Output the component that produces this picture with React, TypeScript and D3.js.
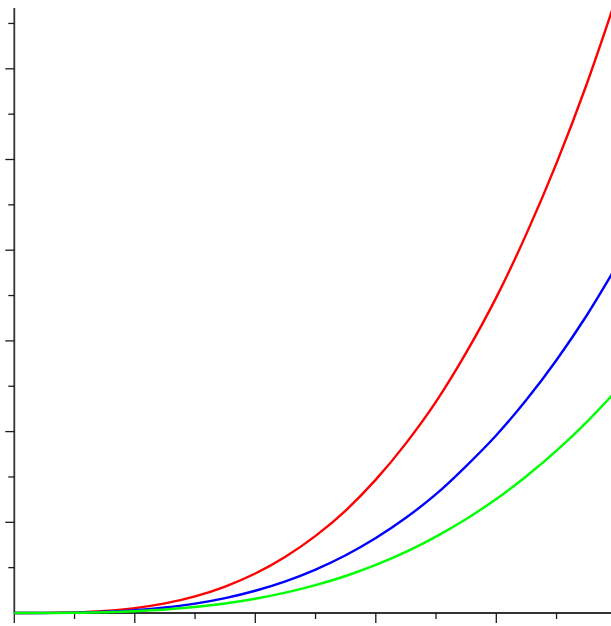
import * as d3 from 'd3';

// x positions sampled along the curves
const xValues = [0, 0.5, 1, 1.5, 2, 2.5, 3, 3.5, 4, 4.5, 5, 5.5, 6, 6.5, 7, 7.5, 8, 8.5, 9, 9.5, 10];

// values
const redValues = [0, 0.085, 0.68, 2.3, 5.4, 10.6, 18.4, 29.2, 43.5, 62, 85, 113, 147, 187, 233, 287, 348, 418, 496, 583, 680];
const blueValues = [0, 0.05, 0.38, 1.3, 3.1, 6.0, 10.3, 16.4, 24.5, 34.9, 47.9, 63.7, 82.7, 105, 131, 162, 196, 235, 279, 328, 383];
const greenValues = [0, 0.03, 0.25, 0.83, 1.96, 3.8, 6.6, 10.5, 15.7, 22.4, 30.7, 40.8, 53, 67.4, 84.2, 103.6, 125.7, 150.8, 179, 210.5, 245.5];

const xMajorTicks = [0, 2, 4, 6, 8, 10];
const xMinorTicks = [1, 3, 5, 7, 9];
const yMajorTicks = [100, 200, 300, 400, 500, 600];
const yMinorTicks = [50, 150, 250, 350, 450, 550, 650];

const SERIES = [
    {name: 'red', values: redValues, color: '#ff0000'},
    {name: 'blue', values: blueValues, color: '#0000ff'},
    {name: 'green', values: greenValues, color: '#00ff00'}
];

const WIDTH = 611;
const HEIGHT = 626;
const Y_AXIS_TOP = 667;

export default function App() {
    const xScale = d3.scaleLinear().domain([0, 10]).range([14.3, 616.8]);
    const yScale = d3.scaleLinear().domain([0, 700]).range([613, 613 - 7 * 90.7]);

    const line = d3.line<number>()
        .x((_, i) => xScale(xValues[i]))
        .y((d) => yScale(d))
        .curve(d3.curveMonotoneX);

    const x0 = xScale(0);
    const y0 = yScale(0);

    return (
        <svg width={WIDTH} height={HEIGHT}
            style={{position: 'absolute', left: 0, top: 0, background: '#fff'}}>
            {/* axes */}
            <line x1={x0} x2={WIDTH + 10} y1={y0} y2={y0} stroke="#333" strokeWidth={1.8} />
            <line x1={x0} x2={x0} y1={yScale(Y_AXIS_TOP)} y2={y0} stroke="#333" strokeWidth={1.8} />

            {xMajorTicks.map((t) => (
                <line key={'xM' + t} x1={xScale(t)} x2={xScale(t)} y1={y0} y2={y0 + 10}
                    stroke="#1a1a1a" strokeWidth={1.3} />
            ))}
            {xMinorTicks.map((t) => (
                <line key={'xm' + t} x1={xScale(t)} x2={xScale(t)} y1={y0} y2={y0 + 6}
                    stroke="#1a1a1a" strokeWidth={1.3} />
            ))}
            {yMajorTicks.map((t) => (
                <line key={'yM' + t} x1={x0 - 9} x2={x0} y1={yScale(t)} y2={yScale(t)}
                    stroke="#1a1a1a" strokeWidth={1.3} />
            ))}
            {yMinorTicks.map((t) => (
                <line key={'ym' + t} x1={x0 - 6} x2={x0} y1={yScale(t)} y2={yScale(t)}
                    stroke="#1a1a1a" strokeWidth={1.3} />
            ))}

            {/* curves */}
            {SERIES.map((s) => (
                <path key={s.name} d={line(s.values) || ''} fill="none"
                    stroke={s.color} strokeWidth={2.4} />
            ))}
        </svg>
    );
}
